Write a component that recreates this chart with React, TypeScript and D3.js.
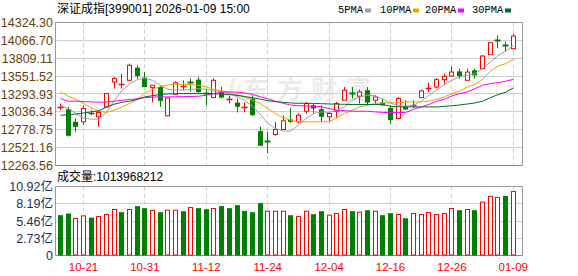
import React from "react";
import * as d3 from "d3";

const dates = [
  "10-16","10-17","10-20","10-21","10-22","10-23","10-24","10-27","10-28","10-29","10-30","10-31",
  "11-03","11-04","11-05","11-06","11-07","11-10","11-11","11-12","11-13","11-14","11-17","11-18","11-19","11-20","11-21","11-24","11-25","11-26","11-27","11-28",
  "12-01","12-02","12-03","12-04","12-05","12-08","12-09","12-10","12-11","12-12","12-15","12-16","12-17","12-18","12-19","12-22","12-23","12-24","12-25","12-26","12-29","12-30","12-31",
  "01-05","01-06","01-07","01-08","01-09",
];
const opens = [
  13100,13075,12893,12893,13005,12965,13108,13467,13425,13491,13674,13531,13386,13395,12979,13290,13405,13462,13501,13305,
  13242,13334,13215,13171,13095,13228,12759,12610,12711,12783,12927,12893,13046,13132,13075,12965,13046,13204,13305,13262,
  13348,13204,13171,13094,12941,13108,13125,13242,13365,13395,13501,13553,13620,13491,13635,13659,13860,14080,13990,13947,
];
const highs = [
  13157,13108,12941,13132,13060,13061,13310,13539,13588,13731,13707,13610,13425,13420,13240,13477,13491,13516,13539,13372,
  13516,13395,13266,13228,13171,13276,12821,12749,12893,12988,13094,13013,13180,13147,13132,13036,13180,13395,13395,13358,
  13395,13276,13228,13132,13252,13204,13204,13358,13458,13520,13588,13692,13659,13659,13659,13850,14040,14138,14052,14162,
];
const lows = [
  13061,12680,12749,12845,12985,12821,13100,13372,13372,13491,13516,13395,13171,13108,12975,13290,13348,13324,13300,13132,
  13240,13230,13157,13028,13028,12980,12548,12439,12690,12780,12880,12869,13013,13013,12893,12893,12950,13204,13228,13157,
  13132,13142,13122,12859,12941,13065,13094,13242,13324,13372,13420,13540,13516,13491,13516,13659,13860,13955,13908,13940,
];
const closes = [
  13108,12692,12821,13085,13015,13028,13300,13516,13430,13707,13553,13395,13420,13194,13237,13457,13410,13457,13323,13300,
  13491,13242,13218,13110,13100,12988,12548,12605,12783,12907,12893,12988,13157,13085,12965,13013,13157,13348,13300,13324,
  13171,13252,13132,12917,13228,13070,13132,13338,13372,13501,13549,13610,13553,13610,13563,13841,14033,14061,13984,14128,
];
const prevCloseBefore = 13150;
// volume in 亿 (1e8 shares)
const volumes = [
  6.38,6.64,5.85,6.27,6.0,6.16,6.48,7.28,6.85,7.28,7.81,7.49,7.12,6.85,7.17,7.17,7.01,7.6,7.49,7.33,
  7.44,7.81,7.49,7.97,7.07,6.85,8.29,7.01,7.01,7.01,6.38,6.16,7.01,6.54,7.01,6.38,6.64,7.28,7.01,6.85,
  7.17,7.01,6.38,6.70,6.48,5.9,6.64,6.48,6.8,6.48,6.64,7.44,7.17,7.28,7.17,8.45,9.36,9.2,9.41,10.13968212,
];
const ma5 = [
  13132,13085,13013,12950,12931,12931,13030,13200,13340,13440,13500,13525,13490,13420,13360,13350,13352,13360,13370,13360,
  13340,13329,13300,13257,13200,13120,13005,12870,12798,12760,12760,12845,12941,13013,13036,13028,13061,13108,13204,13252,
  13276,13266,13218,13160,13132,13118,13132,13190,13276,13348,13430,13491,13539,13563,13588,13659,13755,13850,13908,13994,
];
const ma10 = [
  13323,13262,13218,13157,13094,13046,13028,13061,13108,13157,13218,13310,13360,13400,13425,13433,13433,13430,13420,13395,
  13360,13340,13315,13285,13250,13205,13160,13085,13013,12950,12917,12893,12893,12893,12893,12893,12950,13013,13061,13108,
  13132,13157,13166,13166,13166,13180,13180,13180,13190,13218,13252,13300,13334,13395,13430,13506,13620,13697,13731,13793,
];
const ma20 = [
  13228,13190,13190,13185,13180,13175,13180,13190,13204,13215,13225,13240,13250,13252,13252,13254,13256,13258,13262,13276,
  13300,13320,13325,13320,13310,13290,13255,13225,13190,13160,13135,13125,13122,13115,13110,13085,13061,13055,13046,13046,
  13046,13036,13028,13028,13028,13028,13075,13108,13142,13190,13218,13266,13300,13323,13372,13420,13444,13458,13477,13506,
];
const ma30 = [
  12988,12995,13005,13020,13036,13050,13108,13147,13175,13190,13215,13252,13270,13285,13295,13300,13300,13300,13300,13300,
  13298,13292,13285,13275,13257,13240,13220,13198,13185,13175,13165,13160,13160,13158,13155,13150,13148,13145,13142,13142,
  13142,13142,13142,13118,13110,13108,13108,13108,13108,13108,13115,13125,13135,13150,13165,13190,13240,13285,13320,13381,
];
const priceTicks = [14324.30, 14066.70, 13809.11, 13551.52, 13293.93, 13036.34, 12778.75, 12521.16, 12263.56];
const volTicks = [10.92, 8.19, 5.46, 2.73, 0];
const volTickLabels = ["10.92亿", "8.19亿", "5.46亿", "2.73亿", "0"];
const dateTicks = ["10-21", "10-31", "11-12", "11-24", "12-04", "12-16", "12-26", "01-09"];
const maNames = ["5PMA", "10PMA", "20PMA", "30PMA"];
const titleText = "深证成指[399001] 2026-01-09 15:00";
const lastVolumeShares = 1013968212;

const W = 578, H = 276;
const L = 55.5, R = 522.5, T = 22.5, B = 165.5, VT = 186.5, VB = 255.5;
const RED = "#ff0000", GREEN = "#008000";
const maColors = ["#a0a0a0", "#f0a000", "#ff00ff", "#006b33"];
const SANS = "'Liberation Sans', Arial, 'Noto Sans CJK SC', sans-serif";
const MONO = "'Liberation Mono', monospace";

export default function App() {
  const n = dates.length;
  const x = d3.scaleLinear().domain([0, n - 1]).range([60.5, 513.3]);
  const yP = d3.scaleLinear().domain([priceTicks[priceTicks.length - 1], priceTicks[0]]).range([B, T]);
  const yV = d3.scaleLinear().domain([0, volTicks[0]]).range([VB, VT]);
  const crisp = (v: number) => Math.round(v - 0.5) + 0.5;
  const maSeries = [ma5, ma10, ma20, ma30];
  const line = d3.line<number>().x((_, i) => x(i)).y((d) => yP(d));
  const legendX = [338, 380, 425, 472];
  const legendW = [24, 30, 30, 30];

  return (
    <svg width={W} height={H} style={{ display: "block", position: "absolute", left: 0, top: 0, background: "#fff" }}>
      <rect x={0} y={0} width={W} height={H} fill="#fff" />
      {/* title */}
      <text x={57} y={13} fontSize={12} fontFamily={SANS} fill="#000">{titleText}</text>
      {maNames.map((m, i) => (
        <g key={m}>
          <text x={legendX[i]} y={13} fontSize={10.4} fontFamily={MONO} fill="#000">{m}</text>
          <rect x={legendX[i] + legendW[i] + 3} y={8.5} width={6} height={4} fill={maColors[i]} />
        </g>
      ))}
      {/* watermark */}
      <path d="M226,100 L232,78 L236,78 L231,100 Z M234,100 L238,84 L241,84 L238,100 Z" fill="#000" opacity={0.06} />
      <text x={243} y={99} fontSize={26} fontWeight="bold" letterSpacing={8} fontFamily="'Noto Sans CJK SC', sans-serif" fill="#000" opacity={0.07}>东方财富</text>

      {/* main grid */}
      {priceTicks.slice(1, -1).map((t) => (
        <line key={t} x1={L} x2={R} y1={crisp(yP(t))} y2={crisp(yP(t))} stroke="#cfcfcf" />
      ))}
      {dateTicks.map((d) => {
        const i = dates.indexOf(d);
        const xx = crisp(x(i));
        return (
          <g key={d}>
            <line x1={xx} x2={xx} y1={T} y2={B} stroke="#cfcfcf" strokeDasharray="4,3" />
            <line x1={xx} x2={xx} y1={VT} y2={VB} stroke="#cfcfcf" strokeDasharray="4,3" />
            <text x={x(i)} y={271} fontSize={11.5} fontFamily={SANS} fill={RED} textAnchor="middle">{d}</text>
          </g>
        );
      })}
      {volTicks.slice(1, -1).map((t) => (
        <line key={t} x1={L} x2={R} y1={crisp(yV(t))} y2={crisp(yV(t))} stroke="#cfcfcf" />
      ))}
      {/* borders */}
      <path d={`M${L},${B}V${T}H${R}V${B}`} fill="none" stroke="#999" />
      <line x1={L} x2={R} y1={B} y2={B} stroke="#888" />
      <path d={`M${L},${VB}V${VT}H${R}V${VB}`} fill="none" stroke="#999" />
      <line x1={L} x2={R} y1={VB} y2={VB} stroke="#888" />

      {/* price labels */}
      {priceTicks.map((t) => (
        <text key={t} x={53} y={yP(t) + 4.5} fontSize={12.5} fontFamily={SANS} fill="#6b3d0a" textAnchor="end">{t.toFixed(2)}</text>
      ))}
      {volTicks.map((t, i) => (
        <text key={t} x={53} y={yV(t) + 4.5} fontSize={12.5} fontFamily={SANS} fill="#1f2d5c" textAnchor="end">{volTickLabels[i]}</text>
      ))}
      <text x={57} y={181} fontSize={12} fontFamily={SANS} fill="#000">{"成交量:" + lastVolumeShares}</text>

      {/* candles */}
      {dates.map((d, i) => {
        const o = opens[i], c = closes[i], h = highs[i], l = lows[i];
        const up = c >= o;
        const cx = crisp(x(i));
        const top = yP(Math.max(o, c)), bot = yP(Math.min(o, c));
        const col = up ? RED : GREEN;
        if (bot - top < 1.5) {
          const yy = crisp((top + bot) / 2);
          return (
            <g key={d}>
              <line x1={cx} x2={cx} y1={yP(h)} y2={yP(l)} stroke={col} />
              <line x1={cx - 3} x2={cx + 3} y1={yy} y2={yy} stroke={col} strokeWidth={up ? 1.5 : 2} />
            </g>
          );
        }
        if (up) {
          return (
            <g key={d}>
              <line x1={cx} x2={cx} y1={yP(h)} y2={top} stroke={col} />
              <line x1={cx} x2={cx} y1={bot} y2={yP(l)} stroke={col} />
              <rect x={cx - 2} y={top} width={4} height={bot - top} fill="#fff" stroke={col} />
            </g>
          );
        }
        return (
          <g key={d}>
            <line x1={cx} x2={cx} y1={yP(h)} y2={yP(l)} stroke={col} />
            <rect x={cx - 2.5} y={top} width={5} height={bot - top} fill={col} />
          </g>
        );
      })}

      {/* MA lines */}
      {maSeries.map((s, k) => (
        <path key={k} d={line(s) || ""} fill="none" stroke={maColors[k]} strokeWidth={1} />
      ))}

      {/* volume bars */}
      {volumes.map((v, i) => {
        const prev = i === 0 ? prevCloseBefore : closes[i - 1];
        const up = closes[i] >= prev;
        const cx = crisp(x(i));
        const top = yV(v);
        return up ? (
          <rect key={i} x={cx - 2} y={top} width={4} height={VB - top - 0.5} fill="#fff" stroke={RED} />
        ) : (
          <rect key={i} x={cx - 2.5} y={top} width={5} height={VB - top} fill={GREEN} />
        );
      })}
    </svg>
  );
}
